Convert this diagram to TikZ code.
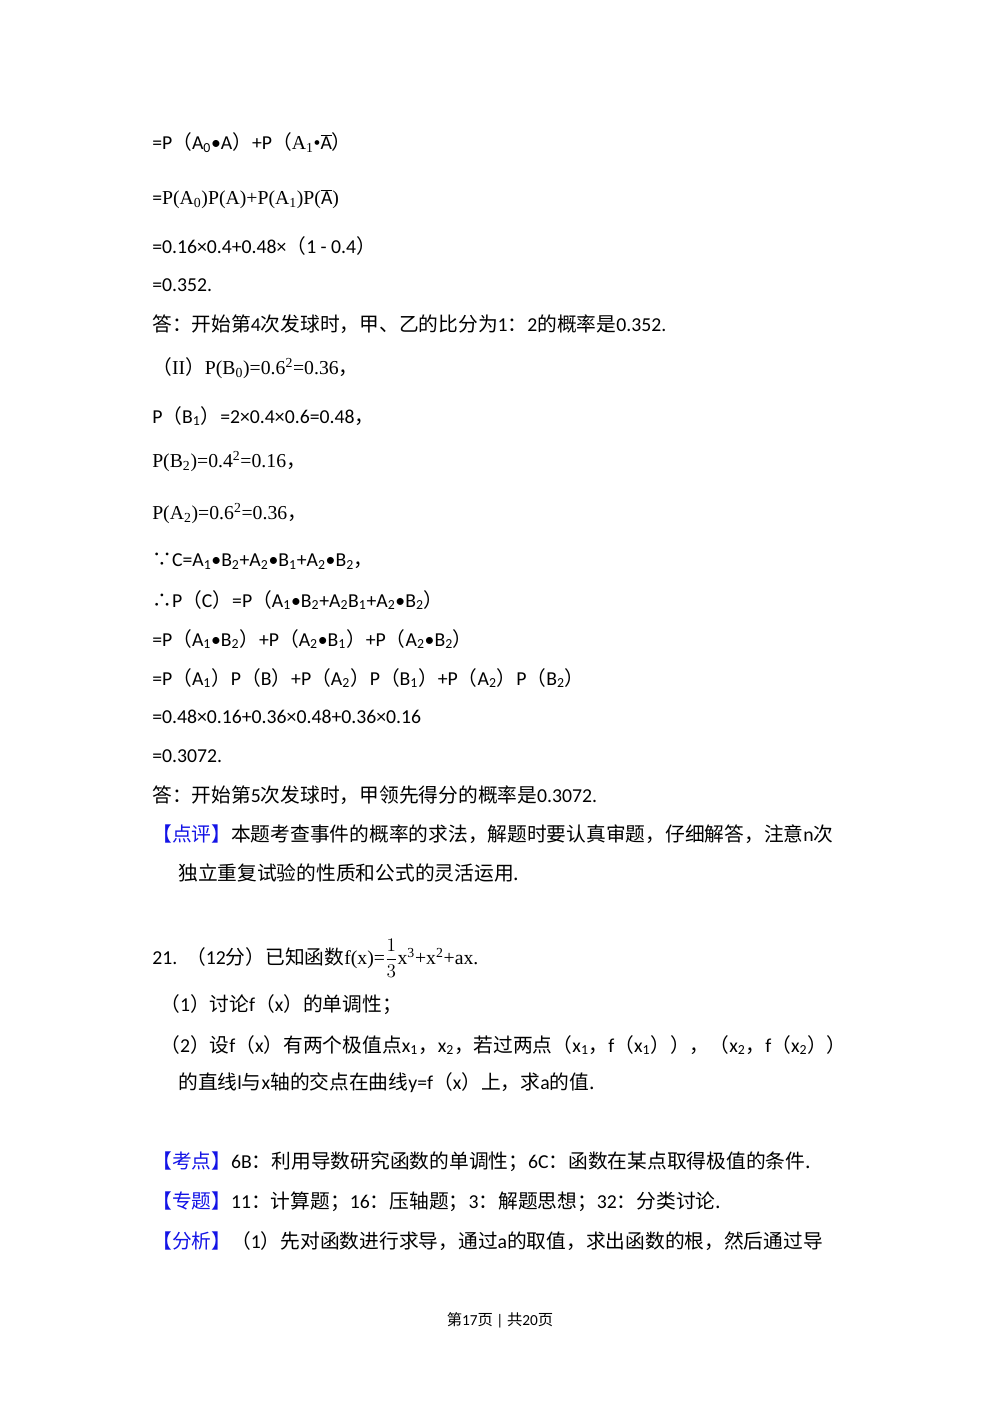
\documentclass[tikz,border=0pt]{standalone}
\usepackage{fontspec}
\setmainfont{Carlito}
\newfontfamily\zhf{Noto Sans CJK SC}
\newfontfamily\serf{Liberation Serif}
\newcommand{\zh}[1]{{\zhf #1}}
\newcommand{\sub}[1]{\textsubscript{#1}}
\definecolor{kblue}{RGB}{20,20,230}
\begin{document}
\begin{tikzpicture}[x=0.75pt,y=-0.75pt,
  ln/.style={anchor=west,inner sep=0pt,font=\fontsize{14.8}{17}\selectfont}]
\useasboundingbox (0,0) rectangle (1000,1414);
\node[ln] (l1) at (152,143) {=P\zh{（}A\sub{0}•A\zh{）}+P\zh{（}{\serf A\sub{1}•$\overline{\mathrm{A}}$}\zh{）}};
\node[ln] (l2) at (152,199) {={\serf P(A\sub{0})P(A)+P(A\sub{1})P($\overline{\mathrm{A}}$)}};
\node[ln] (l3) at (152,246) {=0.16×0.4+0.48×\zh{（}1 - 0.4\zh{）}};
\node[ln] (l4) at (152,285) {=0.352.};
\node[ln] (l5) at (152,324) {\zh{答：开始第}4\zh{次发球时，甲、乙的比分为}1\zh{：}2\zh{的概率是}0.352.};
\node[ln] (l6) at (152,368) {\zh{（}{\serf II}\zh{）}{\serf P(B\sub{0})=0.6\textsuperscript{2}=0.36}\zh{，}};
\node[ln] (l7) at (152,416) {P\zh{（}B\sub{1}\zh{）}=2×0.4×0.6=0.48\zh{，}};
\node[ln] (l8) at (152,462) {{\serf P(B\sub{2})=0.4\textsuperscript{2}=0.16}\zh{，}};
\node[ln] (l9) at (152,514) {{\serf P(A\sub{2})=0.6\textsuperscript{2}=0.36}\zh{，}};
\node[ln] (l10) at (152,561) {\zh{∵}C=A\sub{1}•B\sub{2}+A\sub{2}•B\sub{1}+A\sub{2}•B\sub{2}\zh{，}};
\node[ln] (l11) at (152,600) {\zh{∴}P\zh{（}C\zh{）}=P\zh{（}A\sub{1}•B\sub{2}+A\sub{2}B\sub{1}+A\sub{2}•B\sub{2}\zh{）}};
\node[ln] (l12) at (152,639) {=P\zh{（}A\sub{1}•B\sub{2}\zh{）}+P\zh{（}A\sub{2}•B\sub{1}\zh{）}+P\zh{（}A\sub{2}•B\sub{2}\zh{）}};
\node[ln] (l13) at (152,678) {=P\zh{（}A\sub{1}\zh{）}P\zh{（}B\zh{）}+P\zh{（}A\sub{2}\zh{）}P\zh{（}B\sub{1}\zh{）}+P\zh{（}A\sub{2}\zh{）}P\zh{（}B\sub{2}\zh{）}};
\node[ln] (l14) at (152,717) {=0.48×0.16+0.36×0.48+0.36×0.16};
\node[ln] (l15) at (152,756) {=0.3072.};
\node[ln] (l16) at (152,795) {\zh{答：开始第}5\zh{次发球时，甲领先得分的概率是}0.3072.};
\node[ln] (l17) at (152,834) {\textcolor{kblue}{\zh{【点评】}}\zh{本题考查事件的概率的求法，解题时要认真审题，仔细解答，注意}n\zh{次}};
\node[ln] (l18) at (178,873) {\zh{独立重复试验的性质和公式的灵活运用.}};
\node[ln] (l19) at (152,958) {21.\ \ \zh{（}12\zh{分）已知函数}{\serf f(x)=$\displaystyle\frac{1}{3}$x\textsuperscript{3}+x\textsuperscript{2}+ax.}};
\node[ln] (l20) at (160,1005) {\zh{（}1\zh{）讨论}f\zh{（}x\zh{）的单调性；}};
\node[ln] (l21) at (160,1045) {\zh{（}2\zh{）设}f\zh{（}x\zh{）有两个极值点}x\sub{1}\zh{，}x\sub{2}\zh{，若过两点（}x\sub{1}\zh{，}f\zh{（}x\sub{1}\zh{））}\zh{，（}x\sub{2}\zh{，}f\zh{（}x\sub{2}\zh{））}};
\node[ln] (l22) at (178,1083) {\zh{的直线}l\zh{与}x\zh{轴的交点在曲线}y=f\zh{（}x\zh{）上，求}a\zh{的值.}};
\node[ln] (l23) at (152,1162) {\textcolor{kblue}{\zh{【考点】}}6B\zh{：利用导数研究函数的单调性；}6C\zh{：函数在某点取得极值的条件.}};
\node[ln] (l24) at (152,1202) {\textcolor{kblue}{\zh{【专题】}}11\zh{：计算题；}16\zh{：压轴题；}3\zh{：解题思想；}32\zh{：分类讨论.}};
\node[ln] (l25) at (152,1241) {\textcolor{kblue}{\zh{【分析】}}\zh{（}1\zh{）先对函数进行求导，通过}a\zh{的取值，求出函数的根，然后通过导}};
\node[inner sep=0pt,font=\fontsize{11.5}{13}\selectfont] (ft) at (500,1320) {\zh{第}17\zh{页}\ |\ \zh{共}20\zh{页}};
\end{tikzpicture}
\end{document}
